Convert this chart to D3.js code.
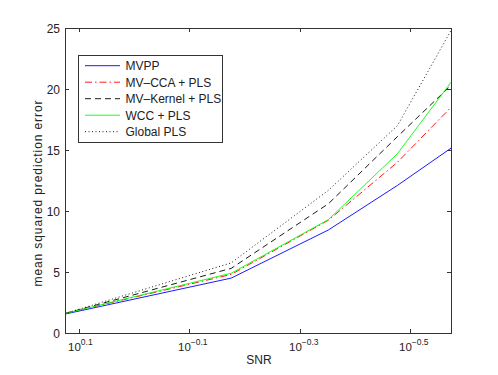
<!DOCTYPE html>
<html><head><meta charset="utf-8">
<script src="https://cdn.jsdelivr.net/npm/d3@7/dist/d3.min.js"></script>
<style>body{margin:0;background:#fff;} svg{display:block;font-family:"Liberation Sans",Arial,sans-serif;}</style>
</head><body>
<svg id="c" width="498" height="375"></svg>
<script>
const snr = [4/3, 2/3, 4/9, 1/3, 4/15];
const mvpp = [1.55, 4.5, 8.45, 12.1, 15.15];
const mvcca = [1.6, 4.8, 9.25, 14.0, 18.5];
const mvkernel = [1.6, 5.3, 10.6, 16.1, 20.3];
const wcc = [1.6, 4.9, 9.3, 14.7, 20.55];
const globalPls = [1.6, 5.75, 11.7, 17.0, 24.8];
const seriesNames = ["MVPP", "MV\u2013CCA + PLS", "MV\u2013Kernel + PLS", "WCC + PLS", "Global PLS"];
const xTickExps = ["0.1", "\u22120.1", "\u22120.3", "\u22120.5"];
const xTickVals = [0.1, -0.1, -0.3, -0.5];
const yTicks = [0, 5, 10, 15, 20, 25];

const series = [
  {name: seriesNames[0], vals: mvpp, color: "#0000ff", dash: null},
  {name: seriesNames[1], vals: mvcca, color: "#ff0000", dash: "7,3,1.5,3"},
  {name: seriesNames[2], vals: mvkernel, color: "#000000", dash: "6,4"},
  {name: seriesNames[3], vals: wcc, color: "#00ff00", dash: null},
  {name: seriesNames[4], vals: globalPls, color: "#000000", dash: "1,2.5"}
];

const L = 65, R = 451, T = 28, B = 333;
const svg = d3.select("#c");
const x = d3.scaleLog().domain([snr[0], snr[snr.length-1]]).range([L, R]);
const y = d3.scaleLinear().domain([0, 25]).range([B, T]);
const axisColor = "#333";
const textColor = "#222";

// lines
const line = d3.line().x((d,i)=>x(snr[i])).y(d=>y(d));
const g = svg.append("g");
series.forEach(s => {
  g.append("path").attr("d", line(s.vals)).attr("fill","none")
   .attr("stroke", s.color).attr("stroke-width", 0.9)
   .attr("stroke-dasharray", s.dash);
});

// box
svg.append("rect").attr("x",L+0.5).attr("y",T+0.5).attr("width",R-L).attr("height",B-T)
  .attr("fill","none").attr("stroke",axisColor).attr("stroke-width",1);

// y ticks
yTicks.forEach(v => {
  const yy = Math.round(y(v))+0.5;
  svg.append("line").attr("x1",L).attr("x2",L+4).attr("y1",yy).attr("y2",yy).attr("stroke",axisColor);
  svg.append("line").attr("x1",R-4).attr("x2",R).attr("y1",yy).attr("y2",yy).attr("stroke",axisColor);
  svg.append("text").attr("x",L-5).attr("y",yy+4.3).attr("text-anchor","end")
    .attr("font-size",12).attr("fill",textColor).text(v);
});

// x ticks
xTickVals.forEach((e,i) => {
  const xx = Math.round(x(Math.pow(10,e)))+0.5;
  svg.append("line").attr("x1",xx).attr("x2",xx).attr("y1",B).attr("y2",B-4).attr("stroke",axisColor);
  svg.append("line").attr("x1",xx).attr("x2",xx).attr("y1",T).attr("y2",T+4).attr("stroke",axisColor);
  const t = svg.append("text").attr("x",xx-11.5).attr("y",351).attr("font-size",11.5).attr("fill",textColor);
  t.append("tspan").text("10");
  t.append("tspan").attr("dy",-6.5).attr("font-size",8.5).text(xTickExps[i]);
});

// axis labels
svg.append("text").attr("x",(L+R)/2+1).attr("y",364).attr("text-anchor","middle")
  .attr("font-size",12).attr("fill",textColor).text("SNR");
svg.append("text").attr("transform",`translate(42,${(T+B)/2+13}) rotate(-90)`)
  .attr("text-anchor","middle").attr("font-size",12).attr("textLength",186).attr("lengthAdjust","spacing")
  .attr("fill",textColor).text("mean squared prediction error");

// legend
const lg = svg.append("g");
lg.append("rect").attr("x",78.5).attr("y",55.5).attr("width",144).attr("height",87)
  .attr("fill","#fff").attr("stroke",axisColor);
series.forEach((s,i) => {
  const yy = 65.7 + i*16.5;
  lg.append("line").attr("x1",85).attr("x2",120).attr("y1",yy).attr("y2",yy)
    .attr("stroke",s.color).attr("stroke-width",0.9).attr("stroke-dasharray",s.dash);
  lg.append("text").attr("x",125.5).attr("y",yy+4.3).attr("font-size",12).attr("fill",textColor).text(s.name);
});
</script>
</body></html>
